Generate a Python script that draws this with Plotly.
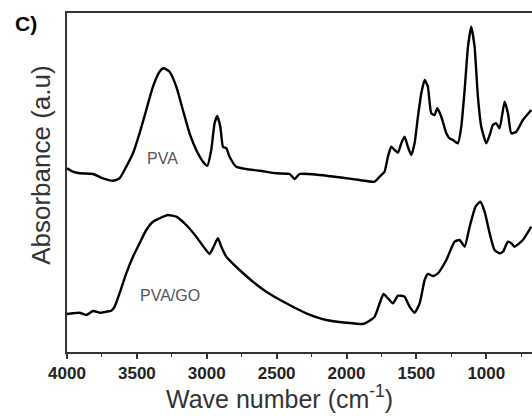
import plotly.graph_objects as go

# PVA spectrum (wavenumber, absorbance a.u.)
pva_wn = [4000, 3958, 3910, 3814, 3743, 3671, 3624, 3576, 3528, 3481, 3433, 3385, 3338, 3309,
          3266, 3218, 3171, 3123, 3075, 3027, 2996, 2968, 2944, 2925, 2903, 2884, 2860, 2837,
          2789, 2717, 2622, 2503, 2407, 2372, 2336, 2193, 2026, 1906, 1799, 1763, 1728, 1704,
          1680, 1656, 1632, 1608, 1585, 1561, 1537, 1513, 1489, 1465, 1441, 1418, 1394, 1370,
          1351, 1322, 1286, 1263, 1239, 1203, 1179, 1155, 1131, 1108, 1084, 1060, 1036, 1000,
          972, 953, 929, 905, 869, 845, 821, 786, 738, 678]
pva_abs = [183.7, 180.3, 178.7, 178.0, 173.7, 171.3, 173.7, 185.3, 198.7, 218.7, 242.0, 265.3,
           280.3, 283.7, 280.3, 265.3, 242.0, 218.7, 202.0, 190.3, 186.3, 202.0, 228.7, 236.0,
           225.3, 205.3, 203.7, 195.3, 185.3, 183.0, 181.3, 178.7, 178.0, 173.0, 178.0, 177.0,
           174.3, 172.0, 170.3, 175.3, 180.3, 195.3, 205.3, 202.0, 199.3, 208.7, 215.3, 205.3,
           197.0, 208.7, 235.3, 258.7, 272.0, 265.3, 238.7, 237.0, 243.7, 235.3, 218.7, 213.7,
           212.0, 208.7, 225.3, 262.0, 305.3, 325.3, 305.3, 255.3, 225.3, 208.7, 218.7, 227.0,
           228.7, 223.7, 250.3, 238.7, 218.7, 220.3, 232.0, 242.0]

# PVA/GO spectrum
go_wn = [4000, 3958, 3910, 3862, 3814, 3767, 3719, 3683, 3659, 3624, 3576, 3528, 3481, 3433,
         3385, 3338, 3278, 3218, 3147, 3075, 3015, 2980, 2951, 2920, 2896, 2860, 2765, 2670,
         2574, 2431, 2288, 2145, 2002, 1883, 1847, 1799, 1763, 1735, 1704, 1668, 1632, 1585,
         1549, 1513, 1477, 1441, 1418, 1382, 1346, 1286, 1227, 1191, 1155, 1119, 1077, 1043,
         1012, 976, 941, 905, 881, 845, 821, 798, 738, 678]
go_abs = [38.0, 38.7, 39.3, 37.0, 41.0, 39.3, 40.3, 41.3, 45.3, 58.7, 78.7, 95.3, 108.7, 122.0,
          130.3, 133.7, 137.0, 135.3, 127.0, 115.3, 103.7, 98.0, 105.3, 113.7, 105.3, 95.3, 82.0,
          70.3, 60.3, 48.7, 38.7, 32.0, 29.3, 28.0, 30.3, 35.3, 48.7, 58.0, 53.7, 48.7, 56.3,
          55.3, 45.3, 39.3, 48.7, 72.0, 78.0, 76.0, 78.7, 92.0, 110.3, 112.0, 105.3, 125.3,
          145.3, 150.3, 140.3, 118.7, 102.0, 98.7, 100.3, 110.3, 108.7, 105.3, 112.0, 125.3]

tick_vals = [4000, 3500, 3000, 2500, 2000, 1500, 1000]
tick_text = ["4000", "3500", "3000", "2500", "2000", "1500", "1000"]

fig = go.Figure()
for wn, ab in [(pva_wn, pva_abs), (go_wn, go_abs)]:
    fig.add_trace(go.Scatter(x=wn, y=ab, mode="lines",
                             line=dict(color="black", width=2.4, shape="spline", smoothing=0.5),
                             showlegend=False, hoverinfo="skip"))

font_family = "Liberation Sans, Arial, sans-serif"

fig.update_layout(
    width=532, height=416,
    margin=dict(l=67, r=0, t=13, b=64),
    plot_bgcolor="white", paper_bgcolor="white",
    font=dict(family=font_family, color="#222"),
    xaxis=dict(range=[4000, 673], showline=True, linecolor="#333", linewidth=1.5, mirror=True,
               tickmode="array", tickvals=tick_vals, ticktext=tick_text,
               ticks="outside", ticklen=5, tickwidth=1.5, tickcolor="#333",
               minor=dict(dtick=250, ticks="outside", ticklen=3, tickwidth=1.2, tickcolor="#333"),
               tickfont=dict(size=17, family=font_family, color="#222", weight="bold"),
               showgrid=False, zeroline=False),
    yaxis=dict(range=[0, 339], showline=True, linecolor="#333", linewidth=1.5,
               showticklabels=False, ticks="", showgrid=False, zeroline=False),
    annotations=[
        dict(text="PVA", x=3320, y=194, xref="x", yref="y", showarrow=False,
             xanchor="center", yanchor="middle", font=dict(size=16, color="#555")),
        dict(text="PVA/GO", x=3260, y=57, xref="x", yref="y", showarrow=False,
             xanchor="center", yanchor="middle", font=dict(size=16, color="#555")),
        dict(text="<b>C)</b>", x=-0.088, y=0.968, xref="paper", yref="paper", showarrow=False,
             xanchor="center", yanchor="middle", font=dict(size=21, color="black")),
        dict(text="Absorbance (a.u)", x=-0.056, y=0.552, xref="paper", yref="paper",
             xanchor="center", yanchor="middle",
             showarrow=False, textangle=-90, font=dict(size=26, color="#333")),
        dict(text="Wave number (cm<sup>-1</sup>)", x=0.458, y=-0.133, xref="paper", yref="paper",
             xanchor="center", yanchor="middle",
             showarrow=False, font=dict(size=25, color="#333")),
    ],
)

fig.write_html("out.html", config={"displayModeBar": False},
               post_script="document.body.style.margin='0';document.body.style.overflow='hidden';")
